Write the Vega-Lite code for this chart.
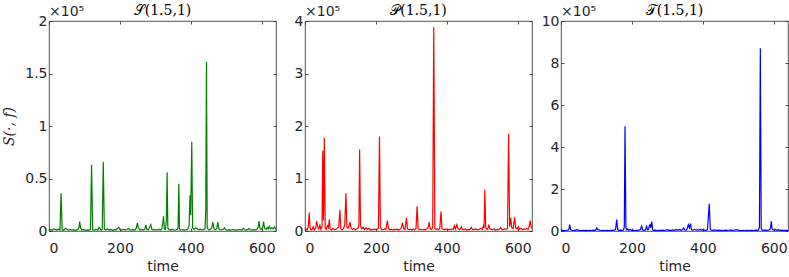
{
  "$schema": "https://vega.github.io/schema/vega-lite/v6.json",
  "padding": {"left": 2, "top": 3, "right": 1, "bottom": 2},
  "spacing": 29,
  "bounds": "flush",
  "datasets": {
    "S": [
      {"time":0,"value":500},{"time":5,"value":1200},{"time":10,"value":800},{"time":14,"value":2000},{"time":18,"value":1500},{"time":22,"value":900},{"time":27,"value":1800},{"time":31,"value":1000},{"time":34,"value":36000},{"time":37,"value":1200},{"time":41,"value":700},{"time":46,"value":2500},{"time":50,"value":1800},{"time":54,"value":900},{"time":59,"value":1400},{"time":64,"value":800},{"time":69,"value":1200},{"time":74,"value":600},{"time":79,"value":1000},{"time":84,"value":2500},{"time":86.5,"value":9000},{"time":89,"value":3000},{"time":93,"value":900},{"time":98,"value":1300},{"time":103,"value":700},{"time":108,"value":1100},{"time":113,"value":900},{"time":117,"value":1500},{"time":120,"value":63000},{"time":123,"value":1200},{"time":128,"value":800},{"time":133,"value":1600},{"time":138,"value":1000},{"time":141,"value":3500},{"time":144,"value":2000},{"time":147,"value":800},{"time":150,"value":1500},{"time":153,"value":66000},{"time":156,"value":1800},{"time":160,"value":1200},{"time":165,"value":2000},{"time":170,"value":900},{"time":175,"value":1500},{"time":180,"value":700},{"time":185,"value":1300},{"time":190,"value":1000},{"time":194,"value":3000},{"time":197,"value":3500},{"time":200,"value":1500},{"time":205,"value":900},{"time":210,"value":1600},{"time":215,"value":1100},{"time":220,"value":1400},{"time":224,"value":2500},{"time":227,"value":1200},{"time":232,"value":800},{"time":237,"value":1300},{"time":242,"value":900},{"time":246,"value":2500},{"time":249,"value":7500},{"time":252,"value":3000},{"time":256,"value":1000},{"time":261,"value":1600},{"time":266,"value":900},{"time":270,"value":1500},{"time":273,"value":5500},{"time":276,"value":1500},{"time":280,"value":1200},{"time":283,"value":3000},{"time":287,"value":6000},{"time":290,"value":1500},{"time":295,"value":1000},{"time":300,"value":1400},{"time":305,"value":800},{"time":310,"value":1700},{"time":314,"value":1000},{"time":318,"value":2000},{"time":321,"value":8000},{"time":323,"value":14000},{"time":325,"value":2000},{"time":328,"value":1500},{"time":331,"value":10000},{"time":333,"value":56000},{"time":335,"value":3000},{"time":338,"value":1500},{"time":343,"value":1000},{"time":348,"value":1500},{"time":353,"value":900},{"time":358,"value":1200},{"time":362,"value":1500},{"time":364,"value":4000},{"time":366,"value":45000},{"time":368,"value":2000},{"time":371,"value":900},{"time":376,"value":1400},{"time":381,"value":800},{"time":386,"value":1200},{"time":391,"value":1500},{"time":395,"value":5000},{"time":397.5,"value":34000},{"time":399.5,"value":15000},{"time":402.5,"value":85000},{"time":405,"value":3000},{"time":409,"value":1500},{"time":413,"value":3000},{"time":417,"value":2500},{"time":421,"value":1200},{"time":426,"value":1800},{"time":431,"value":1000},{"time":436,"value":1500},{"time":440,"value":2000},{"time":442,"value":20000},{"time":444,"value":161000},{"time":446,"value":3000},{"time":450,"value":1200},{"time":455,"value":1500},{"time":459,"value":3000},{"time":462,"value":8500},{"time":465,"value":2000},{"time":469,"value":1200},{"time":473,"value":2500},{"time":476,"value":8500},{"time":479,"value":2000},{"time":483,"value":1000},{"time":488,"value":1400},{"time":492,"value":1800},{"time":495,"value":3000},{"time":498,"value":1200},{"time":503,"value":800},{"time":508,"value":1300},{"time":513,"value":900},{"time":518,"value":1400},{"time":523,"value":800},{"time":528,"value":1200},{"time":533,"value":1000},{"time":538,"value":1400},{"time":543,"value":900},{"time":548,"value":2500},{"time":551,"value":1200},{"time":556,"value":900},{"time":561,"value":1500},{"time":564,"value":2500},{"time":567,"value":1200},{"time":572,"value":900},{"time":577,"value":1300},{"time":582,"value":1000},{"time":587,"value":1800},{"time":590,"value":4000},{"time":592,"value":9500},{"time":595,"value":2000},{"time":600,"value":1800},{"time":603,"value":4000},{"time":605,"value":9000},{"time":608,"value":2500},{"time":612,"value":1500},{"time":615,"value":3500},{"time":618,"value":2000},{"time":621,"value":4500},{"time":624,"value":2000},{"time":628,"value":3000},{"time":632,"value":2000},{"time":636,"value":4000},{"time":640,"value":1500}
    ],
    "P": [
      {"time":0,"value":1500},{"time":3,"value":4000},{"time":6,"value":2000},{"time":9,"value":8000},{"time":12,"value":35000},{"time":14,"value":6000},{"time":17,"value":2500},{"time":20,"value":3000},{"time":23,"value":8000},{"time":26,"value":2000},{"time":30,"value":5000},{"time":33,"value":19000},{"time":36,"value":8000},{"time":39,"value":4000},{"time":42,"value":11000},{"time":45,"value":3000},{"time":48,"value":8000},{"time":50,"value":153000},{"time":52,"value":20000},{"time":54.5,"value":177000},{"time":57,"value":5000},{"time":60,"value":3000},{"time":63,"value":10000},{"time":66,"value":6000},{"time":68.5,"value":22000},{"time":71,"value":4000},{"time":75,"value":2000},{"time":79,"value":5000},{"time":83,"value":2500},{"time":87,"value":3000},{"time":91,"value":5000},{"time":95,"value":8000},{"time":98.5,"value":40000},{"time":101,"value":4000},{"time":105,"value":2500},{"time":109,"value":5000},{"time":112,"value":12000},{"time":115.5,"value":72000},{"time":118,"value":8000},{"time":121,"value":5000},{"time":124,"value":9000},{"time":127,"value":17000},{"time":130,"value":5000},{"time":134,"value":3000},{"time":138,"value":5000},{"time":142,"value":2500},{"time":146,"value":4000},{"time":150,"value":6000},{"time":152,"value":12000},{"time":154,"value":155000},{"time":156.5,"value":10000},{"time":160,"value":4000},{"time":164,"value":7000},{"time":168,"value":3000},{"time":172,"value":6000},{"time":176,"value":3000},{"time":180,"value":5000},{"time":184,"value":2000},{"time":188,"value":3000},{"time":192,"value":2500},{"time":196,"value":4000},{"time":200,"value":2500},{"time":204,"value":3500},{"time":207,"value":5000},{"time":210,"value":180000},{"time":212.5,"value":8000},{"time":216,"value":3000},{"time":220,"value":2500},{"time":224,"value":4000},{"time":228,"value":3000},{"time":232.5,"value":20000},{"time":235,"value":5000},{"time":239,"value":2500},{"time":243,"value":3500},{"time":247,"value":2000},{"time":251,"value":3000},{"time":255,"value":2500},{"time":259,"value":4000},{"time":263,"value":2000},{"time":267,"value":3000},{"time":271,"value":5000},{"time":275,"value":16000},{"time":278,"value":4000},{"time":282,"value":3000},{"time":286,"value":25000},{"time":289,"value":4000},{"time":293,"value":2500},{"time":297,"value":3500},{"time":301,"value":2000},{"time":305,"value":4000},{"time":309,"value":2500},{"time":313,"value":5000},{"time":316,"value":47000},{"time":319,"value":4000},{"time":323,"value":2500},{"time":327,"value":3500},{"time":331,"value":2000},{"time":335,"value":3000},{"time":339,"value":2500},{"time":343,"value":4000},{"time":347,"value":6000},{"time":350,"value":17000},{"time":353,"value":4000},{"time":356,"value":3000},{"time":360,"value":6000},{"time":363,"value":388000},{"time":366,"value":5000},{"time":369,"value":3000},{"time":373,"value":4000},{"time":377,"value":2500},{"time":380,"value":5000},{"time":383.5,"value":37000},{"time":386,"value":5000},{"time":390,"value":3000},{"time":394,"value":2500},{"time":398,"value":4000},{"time":402,"value":2000},{"time":406,"value":3500},{"time":410,"value":2500},{"time":414,"value":4000},{"time":418,"value":3000},{"time":421,"value":10000},{"time":424,"value":4000},{"time":428,"value":12000},{"time":431,"value":5000},{"time":435,"value":3000},{"time":438,"value":4000},{"time":441,"value":8000},{"time":444,"value":3000},{"time":448,"value":2500},{"time":452,"value":4000},{"time":456,"value":2000},{"time":460,"value":3000},{"time":464,"value":2500},{"time":469,"value":7000},{"time":472,"value":3000},{"time":476,"value":2500},{"time":480,"value":4000},{"time":484,"value":3000},{"time":488,"value":2500},{"time":492,"value":3500},{"time":496,"value":5000},{"time":500,"value":3000},{"time":503,"value":10000},{"time":505,"value":6000},{"time":507,"value":79000},{"time":509.5,"value":6000},{"time":512,"value":4000},{"time":515,"value":3000},{"time":518,"value":12000},{"time":521,"value":4000},{"time":525,"value":3000},{"time":529,"value":2500},{"time":533,"value":4000},{"time":537,"value":2000},{"time":541,"value":3000},{"time":545,"value":2500},{"time":549,"value":4000},{"time":552,"value":7000},{"time":555,"value":3000},{"time":559,"value":2500},{"time":563,"value":4000},{"time":567,"value":3000},{"time":571,"value":5000},{"time":574,"value":185000},{"time":577,"value":8000},{"time":580,"value":25000},{"time":583,"value":6000},{"time":587,"value":5000},{"time":591,"value":26000},{"time":594,"value":6000},{"time":598,"value":4000},{"time":602,"value":8000},{"time":605,"value":3000},{"time":609,"value":5000},{"time":613,"value":2500},{"time":617,"value":4000},{"time":621,"value":3000},{"time":625,"value":5000},{"time":629,"value":3000},{"time":632,"value":8000},{"time":635,"value":20000},{"time":638,"value":6000},{"time":640,"value":5000}
    ],
    "T": [
      {"time":0,"value":2000},{"time":5,"value":3000},{"time":10,"value":2500},{"time":15,"value":3500},{"time":20,"value":4000},{"time":22.5,"value":10000},{"time":24.5,"value":31000},{"time":27,"value":8000},{"time":31,"value":3000},{"time":36,"value":2500},{"time":41,"value":4000},{"time":44,"value":6000},{"time":47,"value":5000},{"time":51,"value":3000},{"time":56,"value":2500},{"time":61,"value":3500},{"time":66,"value":2000},{"time":71,"value":3000},{"time":76,"value":2500},{"time":81,"value":3500},{"time":86,"value":2500},{"time":91,"value":4000},{"time":96,"value":3000},{"time":99,"value":7000},{"time":101,"value":15000},{"time":103,"value":8000},{"time":106,"value":6000},{"time":110,"value":3000},{"time":115,"value":2500},{"time":120,"value":3500},{"time":125,"value":2500},{"time":130,"value":3000},{"time":135,"value":2500},{"time":140,"value":3500},{"time":145,"value":3000},{"time":150,"value":4000},{"time":154,"value":8000},{"time":157,"value":55000},{"time":160,"value":6000},{"time":164,"value":3000},{"time":168,"value":4000},{"time":172,"value":3000},{"time":176,"value":4500},{"time":178.5,"value":20000},{"time":180.5,"value":499000},{"time":183,"value":12000},{"time":186,"value":5000},{"time":188,"value":10000},{"time":191,"value":4000},{"time":195,"value":7000},{"time":199,"value":3000},{"time":203,"value":4000},{"time":207,"value":2500},{"time":211,"value":3500},{"time":215,"value":3000},{"time":219,"value":4000},{"time":223,"value":5000},{"time":227.5,"value":24000},{"time":230,"value":5000},{"time":234,"value":3000},{"time":238,"value":5000},{"time":241.5,"value":22000},{"time":244,"value":6000},{"time":247,"value":8000},{"time":249,"value":25000},{"time":251,"value":30000},{"time":253,"value":15000},{"time":256,"value":45000},{"time":258.5,"value":5000},{"time":262,"value":3000},{"time":266,"value":4000},{"time":270,"value":2500},{"time":275,"value":3500},{"time":280,"value":3000},{"time":285,"value":4000},{"time":290,"value":3000},{"time":295,"value":3500},{"time":300,"value":6000},{"time":304,"value":3000},{"time":308,"value":4000},{"time":312,"value":3000},{"time":316,"value":5000},{"time":320,"value":3500},{"time":325,"value":6000},{"time":330,"value":4000},{"time":334,"value":7000},{"time":338,"value":3000},{"time":342,"value":6000},{"time":346,"value":15000},{"time":349,"value":5000},{"time":353,"value":4000},{"time":356,"value":12000},{"time":359,"value":30000},{"time":362,"value":15000},{"time":365,"value":35000},{"time":368,"value":6000},{"time":372,"value":4000},{"time":376,"value":8000},{"time":380,"value":5000},{"time":384,"value":6000},{"time":388,"value":4000},{"time":392,"value":8000},{"time":395,"value":4000},{"time":399,"value":6000},{"time":403,"value":3000},{"time":407,"value":4000},{"time":410,"value":3000},{"time":413,"value":8000},{"time":418,"value":130000},{"time":421,"value":8000},{"time":424,"value":4000},{"time":428,"value":3000},{"time":433,"value":5000},{"time":438,"value":3000},{"time":443,"value":4000},{"time":448,"value":3000},{"time":453,"value":3500},{"time":458,"value":2500},{"time":463,"value":4000},{"time":468,"value":3000},{"time":473,"value":3500},{"time":478,"value":5000},{"time":483,"value":3000},{"time":488,"value":4000},{"time":493,"value":6000},{"time":498,"value":5000},{"time":503,"value":3000},{"time":508,"value":2500},{"time":513,"value":3500},{"time":518,"value":2500},{"time":523,"value":3000},{"time":528,"value":2500},{"time":533,"value":3500},{"time":538,"value":3000},{"time":543,"value":2500},{"time":548,"value":4000},{"time":553,"value":3000},{"time":557,"value":5000},{"time":559.5,"value":20000},{"time":562,"value":870000},{"time":564.5,"value":12000},{"time":567,"value":5000},{"time":571,"value":3000},{"time":576,"value":4000},{"time":580,"value":3000},{"time":585,"value":4000},{"time":589,"value":8000},{"time":591,"value":20000},{"time":593,"value":46000},{"time":595,"value":10000},{"time":599,"value":5000},{"time":604,"value":8000},{"time":607,"value":4000},{"time":610,"value":3000},{"time":613,"value":7000},{"time":616,"value":3000},{"time":620,"value":4000},{"time":625,"value":3000},{"time":630,"value":3500},{"time":635,"value":3000},{"time":640,"value":3000}
    ]
  },
  "hconcat": [
    {
      "width": 227, "height": 210,
      "title": {"text": "𝒮(1.5,1)"},
      "layer": [
        {
          "data": {"name": "S"},
          "mark": {"type": "line", "color": "#008000", "strokeWidth": 1.2},
          "encoding": {
            "x": {"field": "time", "type": "quantitative", "scale": {"domain": [0, 640], "nice": false}, "axis": {"title": "time", "values": [0, 200, 400, 600]}},
            "y": {"field": "value", "type": "quantitative", "scale": {"domain": [0, 200000], "nice": false}, "axis": {"title": "S(·, f)", "values": [0, 50000, 100000, 150000, 200000], "labelExpr": "format(datum.value/100000,'')"}}
          }
        },
        {
          "data": {"values": [{"label": "×10⁵"}]},
          "mark": {"type": "text", "align": "left", "baseline": "alphabetic", "dy": -5, "fontSize": 14, "font": "DejaVu Sans", "color": "#262626"},
          "encoding": {
            "text": {"field": "label"},
            "x": {"datum": 0, "type": "quantitative", "axis": {"orient": "top", "labels": false, "title": null, "values": [0, 200, 400, 600]}},
            "y": {"datum": 200000, "type": "quantitative", "axis": {"orient": "right", "labels": false, "title": null, "values": [0, 50000, 100000, 150000, 200000]}}
          }
        }
      ],
      "resolve": {"axis": {"x": "independent", "y": "independent"}}
    },
    {
      "width": 227, "height": 210,
      "title": {"text": "𝒫(1.5,1)"},
      "layer": [
        {
          "data": {"name": "P"},
          "mark": {"type": "line", "color": "#ff0000", "strokeWidth": 1.2},
          "encoding": {
            "x": {"field": "time", "type": "quantitative", "scale": {"domain": [0, 640], "nice": false}, "axis": {"title": "time", "values": [0, 200, 400, 600]}},
            "y": {"field": "value", "type": "quantitative", "scale": {"domain": [0, 400000], "nice": false}, "axis": {"title": null, "values": [0, 100000, 200000, 300000, 400000], "labelExpr": "format(datum.value/100000,'')"}}
          }
        },
        {
          "data": {"values": [{"label": "×10⁵"}]},
          "mark": {"type": "text", "align": "left", "baseline": "alphabetic", "dy": -5, "fontSize": 14, "font": "DejaVu Sans", "color": "#262626"},
          "encoding": {
            "text": {"field": "label"},
            "x": {"datum": 0, "type": "quantitative", "axis": {"orient": "top", "labels": false, "title": null, "values": [0, 200, 400, 600]}},
            "y": {"datum": 400000, "type": "quantitative", "axis": {"orient": "right", "labels": false, "title": null, "values": [0, 100000, 200000, 300000, 400000]}}
          }
        }
      ],
      "resolve": {"axis": {"x": "independent", "y": "independent"}}
    },
    {
      "width": 227, "height": 210,
      "title": {"text": "𝒯(1.5,1)"},
      "layer": [
        {
          "data": {"name": "T"},
          "mark": {"type": "line", "color": "#0000ff", "strokeWidth": 1.2},
          "encoding": {
            "x": {"field": "time", "type": "quantitative", "scale": {"domain": [0, 640], "nice": false}, "axis": {"title": "time", "values": [0, 200, 400, 600]}},
            "y": {"field": "value", "type": "quantitative", "scale": {"domain": [0, 1000000], "nice": false}, "axis": {"title": null, "values": [0, 200000, 400000, 600000, 800000, 1000000], "labelExpr": "format(datum.value/100000,'')"}}
          }
        },
        {
          "data": {"values": [{"label": "×10⁵"}]},
          "mark": {"type": "text", "align": "left", "baseline": "alphabetic", "dy": -5, "fontSize": 14, "font": "DejaVu Sans", "color": "#262626"},
          "encoding": {
            "text": {"field": "label"},
            "x": {"datum": 0, "type": "quantitative", "axis": {"orient": "top", "labels": false, "title": null, "values": [0, 200, 400, 600]}},
            "y": {"datum": 1000000, "type": "quantitative", "axis": {"orient": "right", "labels": false, "title": null, "values": [0, 200000, 400000, 600000, 800000, 1000000]}}
          }
        }
      ],
      "resolve": {"axis": {"x": "independent", "y": "independent"}}
    }
  ],
  "config": {
    "view": {"stroke": "#262626", "strokeWidth": 0.8},
    "axis": {
      "domain": false, "grid": false,
      "tickSize": -3, "tickColor": "#262626", "tickWidth": 0.8,
      "labelFont": "DejaVu Sans", "labelFontSize": 14, "labelColor": "#262626",
      "titleFont": "DejaVu Sans", "titleFontSize": 14, "titleFontWeight": "normal", "titleColor": "#262626"
    },
    "axisX": {"labelPadding": 13, "titlePadding": 4},
    "axisY": {"labelPadding": 5, "titleFont": "DejaVu Serif", "titleFontStyle": "italic", "titlePadding": 8},
    "title": {"font": "DejaVu Serif", "fontSize": 14, "fontWeight": "normal", "color": "#000000", "offset": -13}
  }
}
